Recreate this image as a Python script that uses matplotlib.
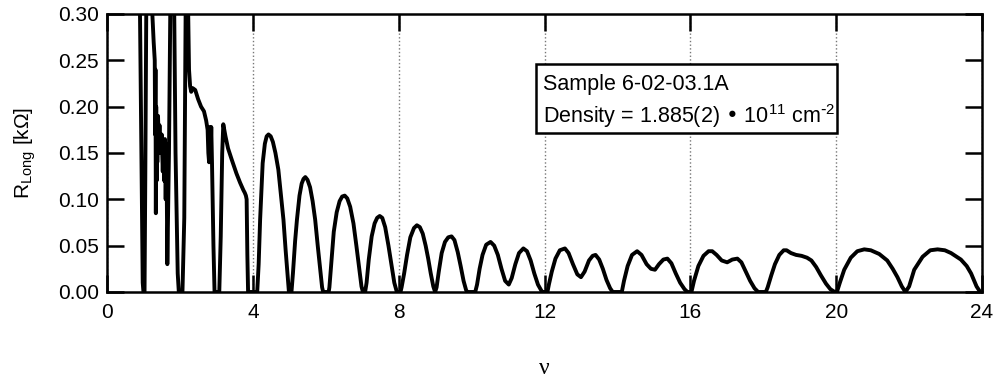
import matplotlib
matplotlib.use('Agg')
import matplotlib.pyplot as plt
from matplotlib.patches import Rectangle

plt.rcParams['font.family'] = ['Liberation Sans', 'DejaVu Sans']
plt.rcParams['mathtext.default'] = 'regular'

# filling factor and longitudinal resistance (kOhm)
nu = [0.90, 0.95, 0.98, 1.00, 1.03, 1.05, 1.08, 1.22, 1.28, 1.31, 1.32, 1.33,
      1.34, 1.35, 1.36, 1.37, 1.38, 1.40, 1.42, 1.44, 1.47, 1.50, 1.53, 1.55,
      1.57, 1.59, 1.61, 1.63, 1.655, 1.70,
      1.74, 1.79, 1.84, 1.88, 1.94, 1.97, 2.07, 2.12, 2.16, 2.22, 2.25, 2.28,
      2.31, 2.35, 2.42, 2.50, 2.58, 2.66, 2.72, 2.76, 2.78, 2.80, 2.82, 2.84,
      2.86, 2.88, 2.92, 2.95, 3.08, 3.12, 3.16, 3.19, 3.25, 3.32, 3.42, 3.55,
      3.65, 3.74, 3.78, 3.81, 3.83, 3.85, 3.87, 4.12,
      4.16, 4.20, 4.27, 4.33, 4.38, 4.43, 4.49, 4.55, 4.62, 4.70, 4.77, 4.84,
      4.90, 4.95, 4.99, 5.06,
      5.10, 5.16, 5.21, 5.28, 5.34, 5.39, 5.44, 5.50, 5.57, 5.64, 5.71, 5.78,
      5.85, 5.90, 5.93, 6.08,
      6.10, 6.15, 6.22, 6.30, 6.38, 6.45, 6.52, 6.59, 6.67, 6.76, 6.84, 6.92,
      6.98, 7.02, 7.08,
      7.12, 7.18, 7.26, 7.34, 7.41, 7.48, 7.55, 7.63, 7.72, 7.80, 7.88, 7.95,
      8.05,
      8.08, 8.15, 8.23, 8.32, 8.42, 8.50, 8.58, 8.66, 8.74, 8.81, 8.88, 8.95,
      9.00,
      9.04, 9.10, 9.18, 9.27, 9.36, 9.45, 9.53, 9.62, 9.70, 9.78, 9.85, 9.88,
      10.10,
      10.15, 10.22, 10.30, 10.40, 10.52, 10.62, 10.72, 10.82, 10.92, 11.02,
      11.10, 11.20, 11.30, 11.42, 11.52, 11.62, 11.72, 11.82, 11.92, 11.95,
      12.08,
      12.12, 12.20, 12.30, 12.42, 12.56, 12.66, 12.78, 12.90, 13.00, 13.10,
      13.22, 13.32, 13.40, 13.50, 13.60, 13.70, 13.80, 13.87, 14.12,
      14.18, 14.28, 14.40, 14.54, 14.66, 14.80, 14.92, 15.03, 15.14, 15.26,
      15.37, 15.48, 15.60, 15.72, 15.84, 15.92, 16.03,
      16.10, 16.22, 16.36, 16.50, 16.60, 16.72, 16.86, 17.01, 17.15, 17.29,
      17.40, 17.52, 17.64, 17.76, 17.86, 18.07,
      18.12, 18.22, 18.32, 18.44, 18.56, 18.64, 18.76, 18.90, 19.05, 19.20,
      19.32, 19.45, 19.58, 19.72, 19.84, 19.96, 20.02,
      20.10, 20.22, 20.40, 20.58, 20.77, 20.95, 21.18, 21.40, 21.55, 21.68,
      21.80, 21.90,
      22.00, 22.14, 22.37, 22.58, 22.78, 22.98, 23.15, 23.42, 23.58, 23.70,
      23.85, 23.95]
r_long = [0.32, 0.12, 0.01, 0.0, 0.0, 0.12, 0.32, 0.32, 0.27, 0.25, 0.17, 0.24,
          0.085, 0.20, 0.12, 0.19, 0.14, 0.19, 0.16, 0.18, 0.15, 0.17, 0.13, 0.16,
          0.12, 0.165, 0.10, 0.16, 0.03, 0.15,
          0.32, 0.32, 0.32, 0.15, 0.02, 0.0, 0.0, 0.08, 0.32, 0.32, 0.24, 0.222,
          0.216, 0.220, 0.218, 0.208, 0.200, 0.195, 0.185, 0.175, 0.150, 0.140, 0.178, 0.145,
          0.178, 0.140, 0.05, 0.0, 0.0, 0.06, 0.15, 0.181, 0.168, 0.155, 0.143, 0.128,
          0.118, 0.110, 0.107, 0.104, 0.100, 0.04, 0.0, 0.0,
          0.03, 0.078, 0.139, 0.160, 0.168, 0.170, 0.168, 0.162, 0.150, 0.132, 0.105, 0.078,
          0.045, 0.02, 0.0, 0.0,
          0.02, 0.055, 0.078, 0.104, 0.117, 0.122, 0.124, 0.121, 0.113, 0.098, 0.078, 0.050,
          0.024, 0.005, 0.0, 0.0,
          0.005, 0.03, 0.065, 0.086, 0.098, 0.103, 0.104, 0.101, 0.092, 0.074, 0.050, 0.025,
          0.006, 0.0, 0.0,
          0.01, 0.035, 0.060, 0.074, 0.080, 0.082, 0.080, 0.070, 0.050, 0.030, 0.010, 0.0,
          0.0,
          0.005, 0.02, 0.040, 0.059, 0.069, 0.072, 0.070, 0.063, 0.050, 0.036, 0.020, 0.006,
          0.0,
          0.005, 0.022, 0.042, 0.054, 0.059, 0.060, 0.056, 0.043, 0.028, 0.012, 0.002, 0.0,
          0.0,
          0.008, 0.025, 0.040, 0.051, 0.054, 0.050, 0.040, 0.025, 0.012, 0.008,
          0.015, 0.030, 0.042, 0.047, 0.044, 0.034, 0.020, 0.008, 0.001, 0.0,
          0.0,
          0.008, 0.022, 0.036, 0.045, 0.047, 0.042, 0.030, 0.019, 0.016, 0.022,
          0.034, 0.039, 0.040, 0.035, 0.025, 0.013, 0.004, 0.0, 0.0,
          0.012, 0.028, 0.040, 0.044, 0.040, 0.030, 0.025, 0.024, 0.030, 0.035,
          0.036, 0.031, 0.020, 0.010, 0.003, 0.0, 0.0,
          0.012, 0.028, 0.039, 0.044, 0.044, 0.040, 0.034, 0.032, 0.035, 0.036,
          0.032, 0.022, 0.012, 0.004, 0.0, 0.0,
          0.005, 0.018, 0.030, 0.040, 0.045, 0.045, 0.042, 0.040, 0.039, 0.037,
          0.034, 0.027, 0.018, 0.009, 0.003, 0.0, 0.0,
          0.010, 0.024, 0.037, 0.044, 0.046, 0.045, 0.041, 0.034, 0.025, 0.016,
          0.006, 0.0,
          0.006, 0.024, 0.038, 0.045, 0.046, 0.045, 0.042, 0.035, 0.028, 0.020,
          0.006, 0.0]

x_ticks = [0, 4, 8, 12, 16, 20, 24]
y_ticks = [0.00, 0.05, 0.10, 0.15, 0.20, 0.25, 0.30]
sample_text = 'Sample 6-02-03.1A'
density_text = 'Density = 1.885(2) \u2022 10$^{11}$ cm$^{\\text{-}2}$'

fig = plt.figure(figsize=(9.98, 3.79), dpi=100)
ax = fig.add_axes([0.1072, 0.2296, 0.8768, 0.7335])

ax.plot(nu, r_long, color='black', lw=2.8, solid_joinstyle='round',
        solid_capstyle='round')

ax.set_xlim(0, 24)
ax.set_ylim(0, 0.30)
ax.set_xticks(x_ticks)
ax.set_yticks(y_ticks)
ax.set_yticklabels(['%.2f' % v for v in y_ticks])
ax.tick_params(direction='in', length=12, width=1.8, labelsize=15,
               top=True, right=True, color='black')
ax.tick_params(axis='x', pad=8)
ax.tick_params(axis='y', pad=6)
ax.grid(axis='x', linestyle=':', color='#777777', lw=1.0)
for s in ax.spines.values():
    s.set_linewidth(1.8)

ax.set_ylabel('R$_{Long}$ [k\u03a9]', fontsize=15, labelpad=14)
ax.set_xlabel('\u03bd', fontsize=17, family='Liberation Serif', labelpad=26)

# annotation box
ax.add_patch(Rectangle((0.490, 0.572), 0.344, 0.248, transform=ax.transAxes,
                       facecolor='white', edgecolor='black', lw=1.8, zorder=5))
ax.text(0.498, 0.727, sample_text, transform=ax.transAxes, fontsize=15.5,
        zorder=6)
ax.text(0.498, 0.609, density_text, transform=ax.transAxes, fontsize=15.5,
        zorder=6)

fig.savefig('out.png', dpi=100)
